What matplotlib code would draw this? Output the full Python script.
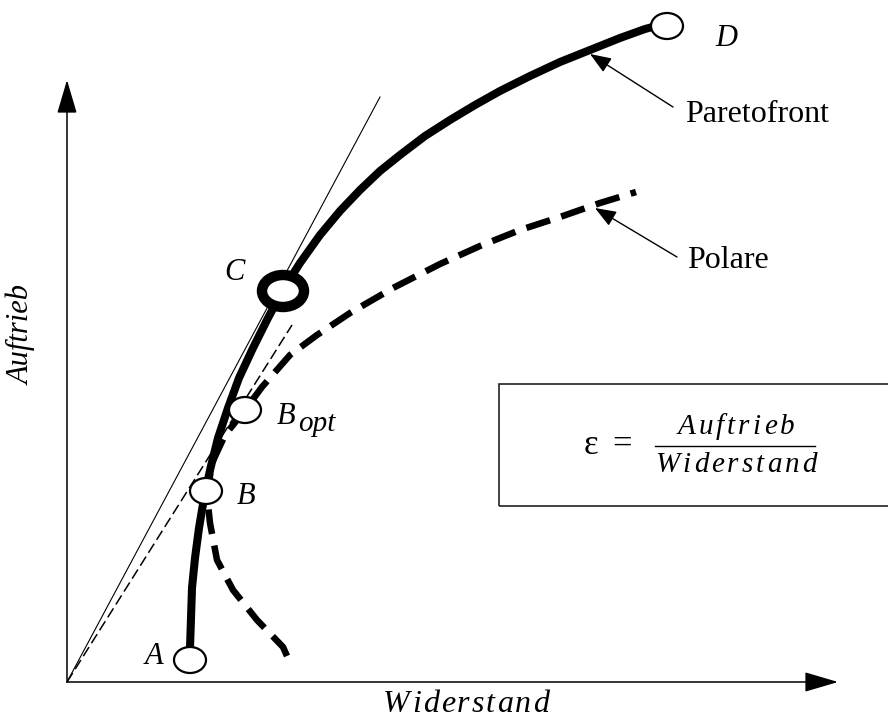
import matplotlib
matplotlib.use("Agg")
import matplotlib.pyplot as plt
from matplotlib.patches import Ellipse, Rectangle
from matplotlib.font_manager import FontProperties
from matplotlib.textpath import TextToPath

# Paretofront (Widerstand, Auftrieb) - origin at the axis corner, units ~ pixels
pareto_w = [123, 124, 125, 128, 132, 137, 143.5, 151, 161, 172, 186, 201, 216,
            233, 253, 273, 293, 313, 333, 358, 383, 408, 433, 463, 493, 523, 553, 578, 593]
pareto_a = [34, 64, 94, 124, 154, 184, 214, 244, 274, 304, 334, 364, 392,
            419, 447, 471, 492, 511, 527, 546, 562, 577, 591, 606, 620, 632, 644, 653, 657]

# Polare
polar_w = [220, 216, 190, 166, 150, 143, 140, 145, 158, 178, 195, 223, 250, 283, 326, 373, 413, 453, 493, 533, 569]
polar_a = [26, 35, 62, 92, 122, 159, 187, 219, 247, 272, 295, 327, 347, 369, 394, 418, 436, 452, 465, 479, 490]

# marked points A, B, B_opt, C, D
pt_names = ["A", "B", "Bopt", "C", "D"]
pt_w = [123, 139, 178, 216, 600]
pt_a = [22, 191, 272, 391, 656]

# tangents through the origin
tan_opt = (225, 357)   # dashed, touches the polar at B_opt
tan_c = (313, 585)     # solid, touches the paretofront at C

SERIF = ["Liberation Serif", "DejaVu Serif"]
t2p = TextToPath()


def spaced_text(ax, xc, y, s, gap, size):
    # italic text with extra letter spacing, centred on xc
    fp = FontProperties(family=SERIF, style="italic", size=size)
    ws = [t2p.get_text_width_height_descent(ch, fp, ismath=False)[0] * 100 / 72 for ch in s]
    total = sum(ws) + gap * (len(s) - 1)
    x = xc - total / 2
    for ch, w in zip(s, ws):
        ax.text(x, y, ch, fontproperties=fp, ha="left", va="baseline")
        x += w + gap


fig = plt.figure(figsize=(8.88, 7.2), dpi=100)
ax = fig.add_axes([0, 0, 1, 1])
ax.set_xlim(-67, 821)
ax.set_ylim(-38, 682)
ax.axis("off")

# axes with arrows
ax.annotate("", xy=(771, 0), xytext=(0, 0),
            arrowprops=dict(arrowstyle="-|>,head_length=2.1,head_width=0.62", lw=1.1,
                            color="black", shrinkA=0, shrinkB=0, mutation_scale=10))
ax.annotate("", xy=(0, 602), xytext=(0, 0),
            arrowprops=dict(arrowstyle="-|>,head_length=2.1,head_width=0.62", lw=1.1,
                            color="black", shrinkA=0, shrinkB=0, mutation_scale=10))

# tangents
ax.plot([0, tan_c[0]], [0, tan_c[1]], color="black", lw=0.8, zorder=2)
ax.plot([0, tan_opt[0]], [0, tan_opt[1]], color="black", lw=1.1, ls=(0, (7, 3)), zorder=2)

# curves
ax.plot(polar_w, polar_a, color="black", lw=4.7, ls=(0, (3.8, 1.8)),
        dash_capstyle="butt", zorder=3)
ax.plot(pareto_w, pareto_a, color="black", lw=5.8, solid_capstyle="butt",
        solid_joinstyle="round", zorder=4)

# markers
for name, w, a in zip(pt_names, pt_w, pt_a):
    if name == "C":
        e = Ellipse((w, a), 42, 32, facecolor="white", edgecolor="black", lw=7.5, zorder=6)
    else:
        e = Ellipse((w, a), 32, 26, facecolor="white", edgecolor="black", lw=1.6, zorder=6)
    ax.add_patch(e)

lab = dict(family=SERIF, style="italic", size=22)
ax.text(87, 25, "A", ha="center", va="center", **lab)
ax.text(179, 186, "B", ha="center", va="center", **lab)
ax.text(210, 258, "B", ha="left", va="baseline", **lab)
ax.text(231, 251, "opt", ha="left", va="baseline", family=SERIF, style="italic", size=21)
ax.text(167, 409, "C", ha="center", va="center", **lab)
ax.text(659, 643, "D", ha="center", va="center", **lab)

# callouts
arr = dict(arrowstyle="-|>,head_length=1.3,head_width=0.5", lw=1.0, color="black",
           shrinkA=0, shrinkB=0, mutation_scale=10)
ax.annotate("", xy=(523, 628), xytext=(606, 575), arrowprops=arr)
ax.annotate("", xy=(528, 474), xytext=(610, 425), arrowprops=arr)
ax.text(618, 560, "Paretofront", family=SERIF, size=23, ha="left", va="baseline")
ax.text(620, 414, "Polare", family=SERIF, size=23, ha="left", va="baseline")

# axis labels
spaced_text(ax, 399, -30, "Widerstand", 2, 23)
ax.text(-45, 347, "Auftrieb", family=SERIF, style="italic", size=22,
        rotation=90, ha="center", va="center")

# formula box
ax.add_patch(Rectangle((432, 176), 500, 122, fill=False, edgecolor="#222222", lw=1.2, zorder=5))
ax.text(524, 236, "\u03b5", family=SERIF, size=25, ha="center", va="center")
ax.text(555, 237, "=", family=SERIF, size=25, ha="center", va="center")
ax.plot([588, 748], [236, 236], color="black", lw=1.0)
spaced_text(ax, 669, 248, "Auftrieb", 3, 21)
spaced_text(ax, 669, 210, "Widerstand", 3, 21)

fig.savefig("out.png", dpi=100)
